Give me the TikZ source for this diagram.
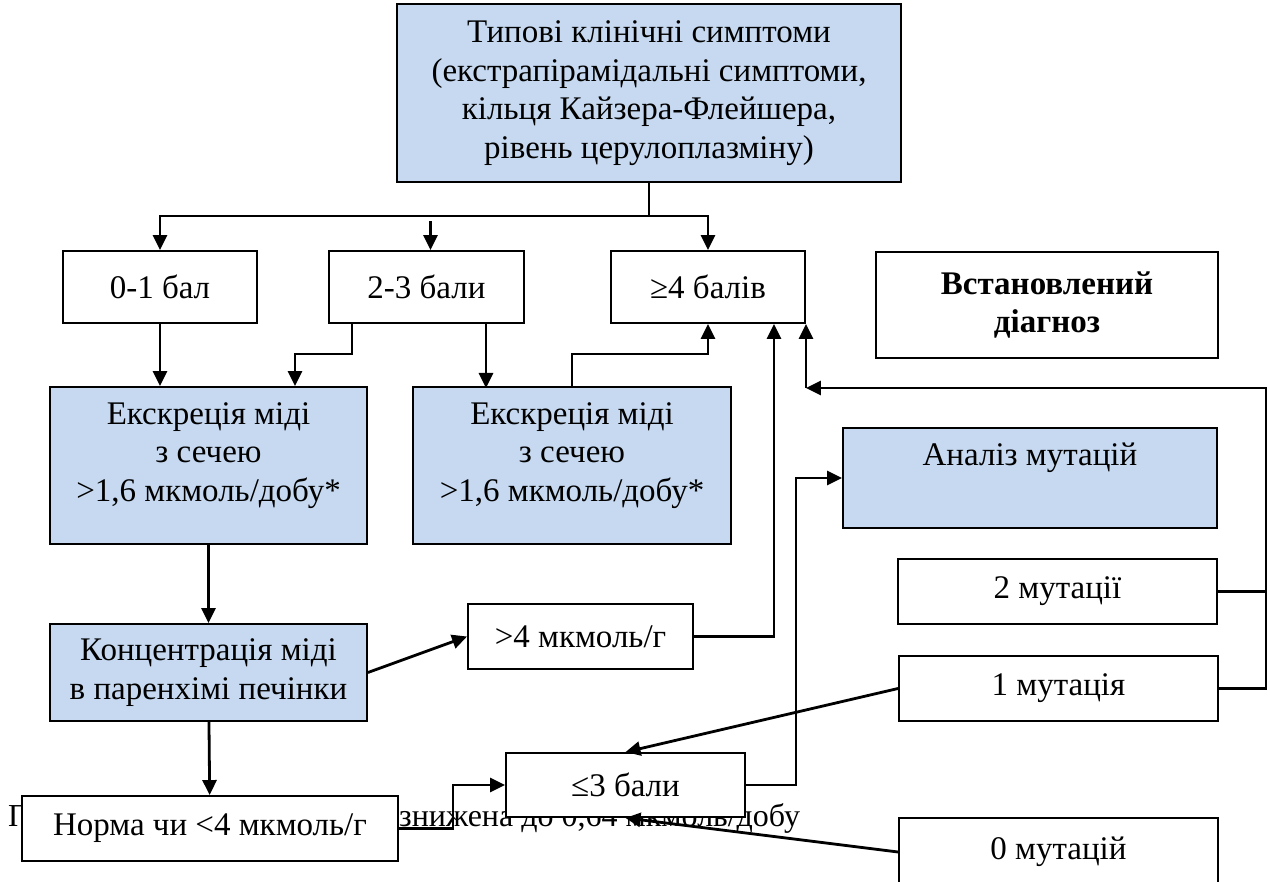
\documentclass[tikz,border=0pt]{standalone}
\usepackage{fontspec}
\setmainfont{Liberation Serif}
\usetikzlibrary{arrows.meta}
\definecolor{boxblue}{RGB}{198,217,240}

\begin{document}
\fontsize{33}{38.5}\selectfont
\begin{tikzpicture}
[
    x=1pt, y=-1pt,
    box/.style={draw, line width=1.9pt, fill=white, align=center, inner sep=0pt},
    bluebox/.style={box, fill=boxblue},
    note/.style={anchor=base west, inner sep=0pt, font=\fontsize{32}{38}\selectfont},
    link/.style={line width=2.8pt},
    arr/.style={link, -{Triangle[length=15pt, width=14pt]}},
]
\useasboundingbox (0,0) rectangle (1270,882);
\node[note] (notehead) at (8,826) {П};
\node[note] (notetail) at (399,826) {знижена до 0,64 мкмоль/добу};

\node[bluebox, minimum width=504pt, minimum height=178pt] (sympt) at (649,93)
    {Типові клінічні симптоми\\(екстрапірамідальні симптоми,\\кільця Кайзера-Флейшера,\\рівень церулоплазміну)};
\node[box, minimum width=194pt, minimum height=72pt] (b01) at (160,287) {0-1 бал};
\node[box, minimum width=195pt, minimum height=72pt] (b23) at (426.5,287) {2-3 бали};
\node[box, minimum width=194pt, minimum height=72pt] (b4) at (708,287) {≥4 балів};
\node[box, minimum width=342pt, minimum height=106pt, font=\bfseries] (diag) at (1047,305) {Встановлений\\діагноз};
\node[bluebox, minimum width=317pt, minimum height=157pt, text depth=27pt] (exc1) at (208.5,465.5)
    {Екскреція міді\\з сечею\\>1,6 мкмоль/добу*};
\node[bluebox, minimum width=318pt, minimum height=157pt, text depth=27pt] (exc2) at (572,465.5)
    {Екскреція міді\\з сечею\\>1,6 мкмоль/добу*};
\node[bluebox, minimum width=374pt, minimum height=100pt, text depth=47pt] (anal) at (1030,478) {Аналіз мутацій};
\node[box, minimum width=319pt, minimum height=65pt] (m2) at (1057.5,591.5) {2 мутації};
\node[bluebox, minimum width=317pt, minimum height=97pt] (conc) at (208.5,672.5) {Концентрація міді\\в паренхімі печінки};
\node[box, minimum width=225pt, minimum height=65pt] (mm4) at (580.5,636.5) {>4 мкмоль/г};
\node[box, minimum width=319pt, minimum height=65pt] (m1) at (1058.5,688.5) {1 мутація};
\node[box, minimum width=239pt, minimum height=64pt] (le3) at (625.5,785) {≤3 бали};
\node[box, minimum width=376pt, minimum height=65pt] (norm) at (210,828.5) {Норма чи <4 мкмоль/г};
\node[box, minimum width=319pt, minimum height=68pt] (m0) at (1058.5,852) {0 мутацій};

\coordinate (split) at ([yshift=-33pt]sympt.south);
\coordinate (ret) at ([yshift=-64pt]b4.south east);
\draw[link] (sympt) -- (split);
\draw[arr] (split) -| (b01);
\draw[arr] (split) -| (b4);
\draw[arr] ([xshift=4pt,yshift=29pt]b23.north) -- ([xshift=4pt]b23.north);
\draw[arr] (b01) -- (b01 |- exc1.north);
\draw[arr] ([xshift=24pt]b23.south west) -- ++(0,30) -| ([xshift=86.5pt]exc1.north);
\draw[arr] ([xshift=59.5pt]b23.south) -- ++(0,64);
\draw[arr] (exc2.north) -- ++(0,-32) -| (b4.south);
\draw[arr] (exc1) -- (conc);
\draw[arr] (conc.east) -- (mm4.west);
\draw[arr] (conc) -- (norm);
\draw[arr] (mm4.east) -| ([xshift=66pt]b4.south);
\draw[arr] (norm.east) -- ++(54,0) |- (le3.west);
\draw[arr] (le3.east) -- ++(50,0) |- (anal.west);
\draw[link] (m2.east) -- ++(47,0);
\draw[arr] (m1.east) -- ++(47,0) |- (ret);
\draw[arr] (ret) -- (b4.south east);
\draw[arr] (m1.west) -- (le3.north);
\draw[arr] (m0.west) -- (le3.south);
\end{tikzpicture}
\end{document}
